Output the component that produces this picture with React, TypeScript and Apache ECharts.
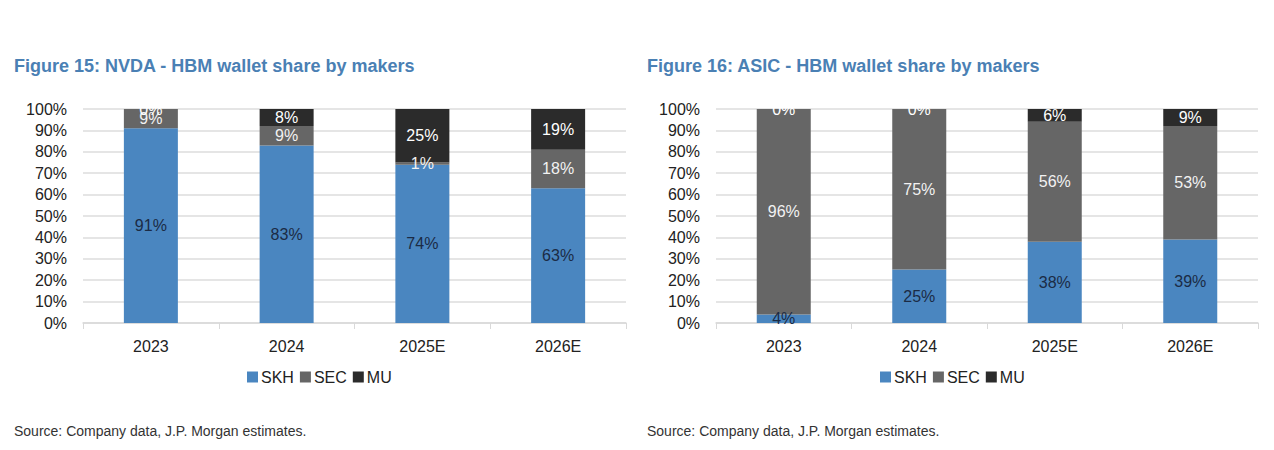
import React, { useEffect, useRef } from "react";
import * as echarts from "echarts";

const categories = ["2023", "2024", "2025E", "2026E"];
const seriesNames = ["SKH", "SEC", "MU"];

const nvdaSKH = [91, 83, 74, 63];
const nvdaSEC = [9, 9, 1, 18];
const nvdaMU = [0, 8, 25, 19];

const asicSKH = [4, 25, 38, 39];
const asicSEC = [96, 75, 56, 53];
const asicMU = [0, 0, 6, 9];

const titles = [
  "Figure 15: NVDA - HBM wallet share by makers",
  "Figure 16: ASIC - HBM wallet share by makers",
];
const sourceText = "Source: Company data, J.P. Morgan estimates.";

const FONT = "'Liberation Sans Narrow', 'Arial Narrow', 'Liberation Sans', Arial, sans-serif";
const colors = ["#4a86c0", "#666666", "#2b2b2b"];
const labelColors = ["#1b2b45", "#f2f2f2", "#ffffff"];

export default function App() {
  const ref = useRef<HTMLDivElement>(null);
  useEffect(() => {
    if (!ref.current) return;
    const chart = echarts.init(ref.current, null, { renderer: "svg" });
    const grids = [
      { left: 83, width: 543, top: 109, height: 214 },
      { left: 716, width: 542, top: 109, height: 214 },
    ];
    const data = [
      [nvdaSKH, nvdaSEC, nvdaMU],
      [asicSKH, asicSEC, asicMU],
    ];
    const series: any[] = [];
    data.forEach((group, gi) => {
      group.forEach((vals, si) => {
        series.push({
          type: "bar",
          name: seriesNames[si],
          xAxisIndex: gi,
          yAxisIndex: gi,
          stack: "s" + gi,
          barWidth: 54,
          data: vals,
          itemStyle: { color: colors[si] },
          label: {
            show: true,
            position: "inside",
            formatter: "{c}%",
            color: labelColors[si],
            fontFamily: FONT,
            fontSize: 16,
          },
        });
      });
    });
    const titleStyle = { color: "#4a80b4", fontSize: 18, fontWeight: "bold", fontFamily: FONT };
    const sourceStyle = { color: "#333333", fontSize: 14, fontWeight: "normal", fontFamily: FONT };
    const legendBase = {
      data: seriesNames,
      top: 364,
      itemWidth: 11,
      itemHeight: 11,
      itemGap: 6,
      icon: "rect",
      textStyle: { fontSize: 16, color: "#222", fontFamily: FONT, padding: [0, 0, 0, -2] },
      selectedMode: false,
    };
    const option: any = {
      animation: false,
      backgroundColor: "#ffffff",
      textStyle: { fontFamily: FONT },
      title: [
        { text: titles[0], left: 14, top: 57, padding: 0, textStyle: titleStyle },
        { text: titles[1], left: 647, top: 57, padding: 0, textStyle: titleStyle },
        { text: sourceText, left: 14, top: 424, padding: 0, textStyle: sourceStyle },
        { text: sourceText, left: 647, top: 424, padding: 0, textStyle: sourceStyle },
      ],
      legend: [
        { ...legendBase, left: 242 },
        { ...legendBase, left: 875 },
      ],
      grid: grids,
      xAxis: [0, 1].map((i) => ({
        type: "category",
        gridIndex: i,
        data: categories,
        axisLine: { lineStyle: { color: "#d9d9d9", width: 1.5 } },
        axisTick: { show: true, length: 6, lineStyle: { color: "#d9d9d9" } },
        axisLabel: { color: "#222", fontSize: 16, margin: 15, fontFamily: FONT },
      })),
      yAxis: [0, 1].map((i) => ({
        type: "value",
        gridIndex: i,
        min: 0,
        max: 100,
        interval: 10,
        axisLine: { show: false },
        axisTick: { show: false },
        splitLine: { lineStyle: { color: "#dddddd", width: 1.5 } },
        axisLabel: { formatter: "{value}%", color: "#222", fontSize: 16, margin: 16, fontFamily: FONT },
      })),
      series,
    };
    chart.setOption(option);
    return () => chart.dispose();
  }, []);
  return (
    <div
      ref={ref}
      style={{ position: "absolute", left: 0, top: 0, width: 1274, height: 450 }}
    />
  );
}
